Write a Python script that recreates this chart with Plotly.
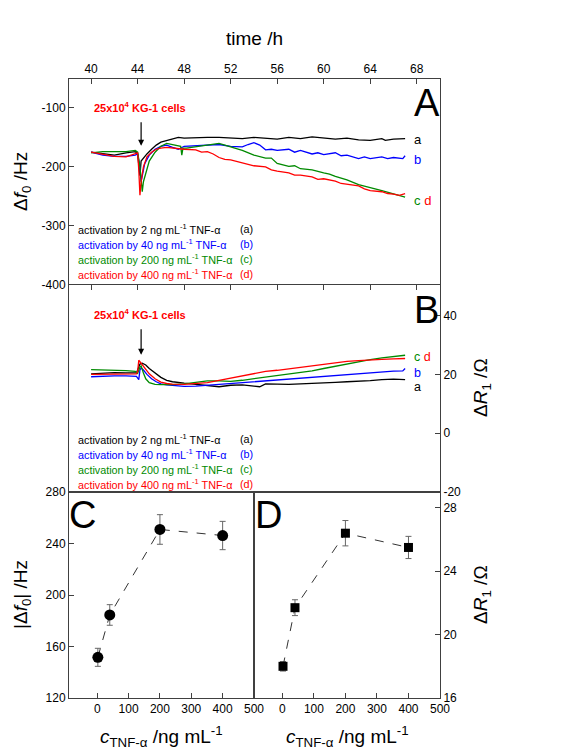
import plotly.graph_objects as go

# ---------------- data ----------------
# Panel A: frequency shift (Hz) vs time (h)
tA_a = [40, 41, 42, 43, 43.8, 44.0, 44.1, 44.2, 44.3, 44.5, 44.8, 45.2, 45.6, 46, 46.5, 47, 47.5, 48, 49, 50, 51, 52, 53, 54, 55, 56, 57, 58, 59, 60, 61, 62, 63, 64, 65, 65.3, 66, 67]
fA_a = [-175, -178, -180, -176, -174, -178, -205, -215, -190, -185, -178, -170, -163, -158, -155, -152, -150, -151, -150, -150, -150, -151, -152, -150, -151, -153, -150, -152, -149, -151, -153, -151, -154, -155, -152, -155, -153, -152]

tA_b = [40, 41, 42, 43, 43.8, 44.0, 44.2, 44.3, 44.4, 44.6, 45, 45.5, 46, 46.5, 47, 47.5, 48, 49, 50, 51, 52, 53, 53.5, 54, 54.5, 55, 55.5, 56, 57, 57.5, 58, 59, 59.5, 60, 61, 61.5, 62, 63, 63.5, 64, 65, 65.5, 66, 66.8, 67]
fA_b = [-175, -180, -182, -182, -180, -178, -200, -225, -215, -195, -180, -170, -165, -163, -167, -170, -165, -164, -163, -162, -165, -166, -162, -159, -163, -171, -170, -172, -170, -175, -172, -178, -176, -179, -176, -181, -180, -186, -183, -186, -183, -186, -184, -186, -181]

tA_c = [40, 41, 42, 43, 43.8, 44.0, 44.2, 44.4, 44.5, 44.7, 45, 45.5, 46, 46.5, 47, 47.5, 47.7, 47.8, 47.9, 48.2, 49, 50, 50.5, 51, 52, 53, 54, 55, 55.5, 56, 57, 57.5, 58, 59, 60, 60.5, 61, 62, 63, 63.5, 64, 65, 66, 66.5, 67]
fA_c = [-176, -174, -174, -174, -172, -175, -200, -242, -225, -210, -190, -175, -165, -160, -162, -165, -165, -180, -168, -168, -166, -163, -161, -160, -166, -172, -180, -185, -185, -194, -199, -198, -203, -205, -210, -212, -216, -222, -230, -232, -235, -240, -246, -248, -251]

tA_d = [40, 41, 42, 43, 43.5, 44.0, 44.1, 44.2, 44.3, 44.5, 44.8, 45.2, 45.6, 46, 46.5, 47, 47.5, 48, 49, 49.5, 50, 50.5, 51, 51.5, 52, 53, 53.5, 54, 55, 55.5, 56, 57, 57.5, 58, 59, 59.5, 60, 61, 61.5, 62, 63, 63.5, 64, 65, 65.5, 66, 66.5, 67]
fA_d = [-175, -179, -182, -183, -180, -176, -205, -248, -225, -200, -183, -175, -170, -168, -167, -168, -170, -170, -171, -175, -174, -178, -184, -187, -188, -193, -196, -198, -200, -205, -207, -210, -214, -214, -217, -221, -220, -224, -228, -229, -232, -237, -240, -242, -245, -246, -248, -245]

# Panel B: motional resistance shift (Ohm) vs time (h)
tB_a = [40, 41, 42, 43, 43.9, 44.0, 44.2, 44.4, 44.7, 45, 45.5, 46, 46.5, 47, 48, 49, 50, 51, 52, 53, 54, 54.5, 55, 56, 57, 58, 59, 60, 61, 62, 63, 64, 65, 66, 67]
rB_a = [20.2, 20.5, 20.6, 20.5, 20.5, 21.5, 23.5, 23.8, 23.2, 22, 20.5, 19, 18, 17.5, 17, 16.6, 16.2, 15.8, 16.3, 16.4, 16.0, 15.8, 16.8, 16.7, 16.6, 16.8, 16.9, 17, 17.3, 17.5, 17.6, 17.9, 18.2, 18.4, 18.2]

tB_b = [40, 41, 42, 43, 43.9, 44.1, 44.2, 44.3, 44.5, 44.8, 45.2, 45.6, 46, 46.5, 47, 48, 49, 50, 51, 52, 53, 54, 55, 56, 57, 58, 59, 60, 61, 62, 63, 64, 65, 66, 66.8, 67]
rB_b = [19.2, 19.4, 19.5, 19.5, 19.3, 18.2, 21.5, 22.2, 21.5, 20, 18.5, 17.5, 16.8, 16.4, 16.2, 15.9, 16.0, 16.3, 16.6, 16.9, 17.2, 17.5, 17.9, 18.3, 18.6, 18.9, 19.1, 19.5, 19.8, 20.1, 20.4, 20.7, 20.9, 21.1, 21.2, 22.0]

tB_c = [40, 41, 42, 43, 43.8, 44.0, 44.2, 44.3, 44.5, 44.7, 45, 45.5, 46, 47, 48, 49, 50, 51, 52, 53, 54, 55, 56, 57, 58, 59, 60, 61, 62, 63, 64, 65, 66, 67]
rB_c = [21.6, 21.5, 21.5, 21.3, 21.0, 20.3, 22.5, 22.9, 20.5, 18.5, 17.2, 16.6, 16.5, 16.5, 16.8, 17.3, 17.8, 17.8, 17.6, 18.0, 18.5, 19.0, 19.5, 20.1, 20.6, 21.2, 22.0, 22.8, 23.5, 24.2, 25.0, 25.6, 26.0, 26.5]

tB_d = [40, 41, 42, 43, 43.9, 44.0, 44.1, 44.2, 44.4, 44.7, 45, 45.5, 46, 46.5, 47, 48, 49, 50, 51, 52, 53, 54, 55, 56, 57, 58, 59, 60, 61, 62, 63, 64, 65, 66, 67]
rB_d = [20.0, 20.1, 20.2, 20.1, 20.2, 21, 24.8, 24.3, 23.2, 21.5, 20.2, 18.5, 17.4, 16.9, 16.7, 16.6, 16.8, 17.2, 18.0, 18.8, 19.5, 20.2, 21.0, 21.4, 21.9, 22.5, 23.0, 23.6, 24.0, 24.4, 24.7, 25.0, 25.1, 25.3, 25.4]

# Panels C/D: dose response
conc = [2, 40, 200, 400]
df_abs = [151.6, 184.5, 250.9, 246.2]
df_err = [7, 8, 11.5, 11]
dR = [18.0, 21.7, 26.4, 25.5]
dR_err = [0.3, 0.5, 0.8, 0.7]

series_labels = ["activation by 2 ng mL<sup>-1</sup> TNF-α",
                 "activation by 40 ng mL<sup>-1</sup> TNF-α",
                 "activation by 200 ng mL<sup>-1</sup> TNF-α",
                 "activation by 400 ng mL<sup>-1</sup> TNF-α"]
series_tags = ["(a)", "(b)", "(c)", "(d)"]
colors = ["#000000", "#0000ff", "#008a00", "#ff0000"]

xticksA = [40, 44, 48, 52, 56, 60, 64, 68]
yticksA = [-400, -300, -200, -100]
yticksB = [-20, 0, 20, 40]
xticksC = [0, 100, 200, 300, 400, 500]
yticksC = [120, 160, 200, 240, 280]
yticksD = [16, 20, 24, 28]

# ---------------- layout geometry ----------------
W, H = 580, 750
L, R, T, B = 61, 148, 71, 60
PW, PH = W - L - R, H - T - B

def px(x):
    return (x - L) / PW

def py(y):
    return (H - B - y) / PH

yA = [py(277), 1.0]
yB = [py(484), py(277)]
yC = [0.0, py(484)]

FONT = "Liberation Sans, Arial, sans-serif"
LINEC = "#404040"

fig = go.Figure()

tA = [tA_a, tA_b, tA_c, tA_d]
fA = [fA_a, fA_b, fA_c, fA_d]
tB = [tB_a, tB_b, tB_c, tB_d]
rB = [rB_a, rB_b, rB_c, rB_d]
for i in range(4):
    fig.add_trace(go.Scatter(x=tA[i], y=fA[i], mode="lines", xaxis="x", yaxis="y",
                             line=dict(color=colors[i], width=1.3), showlegend=False))
for i in range(4):
    fig.add_trace(go.Scatter(x=tB[i], y=rB[i], mode="lines", xaxis="x2", yaxis="y2",
                             line=dict(color=colors[i], width=1.3), showlegend=False))

fig.add_trace(go.Scatter(x=conc, y=df_abs, mode="lines+markers", xaxis="x3", yaxis="y3",
                         line=dict(color="#333", width=1, dash="dash"),
                         marker=dict(symbol="circle", size=11, color="black"),
                         error_y=dict(type="data", array=df_err, color="#666", thickness=1, width=3),
                         showlegend=False))
fig.add_trace(go.Scatter(x=conc, y=dR, mode="lines+markers", xaxis="x4", yaxis="y4",
                         line=dict(color="#333", width=1, dash="dash"),
                         marker=dict(symbol="square", size=9, color="black"),
                         error_y=dict(type="data", array=dR_err, color="#666", thickness=1, width=3),
                         showlegend=False))

def tt(vals):
    return [str(v) for v in vals]

axcommon = dict(showline=True, linecolor=LINEC, linewidth=1, ticks="inside", ticklen=5,
                tickcolor=LINEC, showgrid=False, zeroline=False,
                tickfont=dict(family=FONT, size=12, color="black"))

fig.update_layout(
    width=W, height=H, margin=dict(l=L, r=R, t=T, b=B),
    paper_bgcolor="white", plot_bgcolor="white",
    font=dict(family=FONT, color="black"),
    xaxis=dict(axcommon, domain=[0, 1], anchor="y", side="top", range=[38.1, 70],
               tickvals=xticksA, ticktext=tt(xticksA)),
    yaxis=dict(axcommon, domain=yA, anchor="x", range=[-400, -51], tickvals=yticksA,
               ticktext=tt(yticksA), mirror=True),
    xaxis2=dict(axcommon, domain=[0, 1], anchor="y2", side="top", range=[38.1, 70],
                tickvals=xticksA, showticklabels=False, mirror=True),
    yaxis2=dict(axcommon, domain=yB, anchor="x2", side="right", range=[-20, 50.4],
                tickvals=yticksB, ticktext=tt(yticksB), mirror=True),
    xaxis3=dict(axcommon, domain=[0, px(246)], anchor="y3", range=[-90, 500],
                tickvals=xticksC, ticktext=tt(xticksC), mirror=True),
    yaxis3=dict(axcommon, domain=yC, anchor="x3", range=[120, 280], tickvals=yticksC,
                ticktext=tt(yticksC), mirror=True),
    xaxis4=dict(axcommon, domain=[px(246), 1], anchor="y4", range=[-90, 500],
                tickvals=xticksC, ticktext=tt(xticksC), mirror=True),
    yaxis4=dict(axcommon, domain=yC, anchor="x4", side="right", range=[16, 29],
                tickvals=yticksD, ticktext=tt(yticksD), mirror=True),
)

ann = []
def addtext(x, y, text, size, color="black", xanchor="center", yanchor="middle", angle=0, xref="paper", yref="paper"):
    ann.append(dict(x=x, y=y, xref=xref, yref=yref, text=text, showarrow=False,
                    xanchor=xanchor, yanchor=yanchor, textangle=angle,
                    font=dict(family=FONT, size=size, color=color)))

# axis titles
addtext(px(246), py(30), "time /h", 19)
addtext(px(14), py(174), "Δ<i>f</i><sub>0</sub> /Hz", 19, angle=-90)
addtext(px(474), py(380), "Δ<i>R</i><sub>1</sub> /Ω", 19, angle=-90)
addtext(px(14), py(587), "|Δ<i>f</i><sub>0</sub>| /Hz", 19, angle=-90)
addtext(px(474), py(587), "Δ<i>R</i><sub>1</sub> /Ω", 19, angle=-90)
addtext(px(153), py(728), "<i>c</i><sub>TNF-α</sub> /ng mL<sup>-1</sup>", 19)
addtext(px(339), py(728), "<i>c</i><sub>TNF-α</sub> /ng mL<sup>-1</sup>", 19)

# panel letters
addtext(px(419), py(95), "A", 38)
addtext(px(418), py(302), "B", 38)
addtext(px(74), py(507), "C", 38)
addtext(px(260), py(507), "D", 38)

# legends in A and B
legA_y = [221, 236, 251, 266]
legB_y = [431, 446, 461, 476]
for i in range(4):
    for ys in (legA_y, legB_y):
        addtext(px(68), py(ys[i]), series_labels[i], 10.8, color=colors[i], xanchor="left")
        addtext(px(230), py(ys[i]), series_tags[i], 10.8, color=colors[i], xanchor="left")

# end-of-curve labels
cd = '<span style="color:#008a00">c</span> <span style="color:#ff0000">d</span>'
addtext(67.6, -154, "a", 13, color=colors[0], xanchor="left", xref="x", yref="y")
addtext(67.6, -188, "b", 13, color=colors[1], xanchor="left", xref="x", yref="y")
addtext(67.6, -257, cd, 13, xanchor="left", xref="x", yref="y")
addtext(67.6, 26.0, cd, 12.5, xanchor="left", xref="x2", yref="y2")
addtext(67.6, 20.6, "b", 12.5, color=colors[1], xanchor="left", xref="x2", yref="y2")
addtext(67.6, 15.6, "a", 12.5, color=colors[0], xanchor="left", xref="x2", yref="y2")

# injection annotations
addtext(44.2, -98, "<b>25x10<sup>4</sup> KG-1 cells</b>", 11, color="#ff0000", xref="x", yref="y")
addtext(44.2, 40.4, "<b>25x10<sup>4</sup> KG-1 cells</b>", 11, color="#ff0000", xref="x2", yref="y2")
ann.append(dict(x=44.3, y=-164, xref="x", yref="y", ax=0, ay=-25, text="", showarrow=True,
                arrowhead=2, arrowsize=1, arrowwidth=1.2, arrowcolor="black"))
ann.append(dict(x=44.3, y=26.7, xref="x2", yref="y2", ax=0, ay=-27, text="", showarrow=True,
                arrowhead=2, arrowsize=1, arrowwidth=1.2, arrowcolor="black"))

fig.update_layout(annotations=ann)
fig.write_html("out.html")
